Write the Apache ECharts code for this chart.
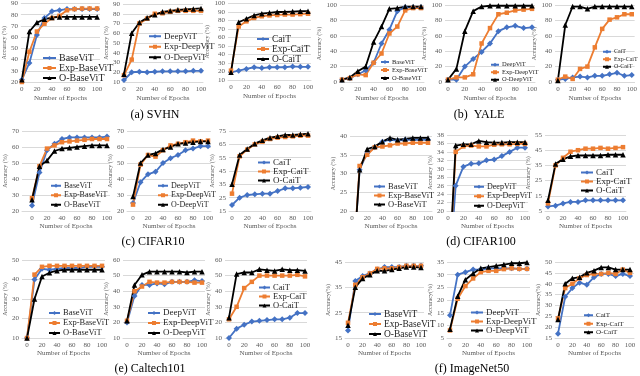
<!DOCTYPE html>
<html>
<head>
<meta charset="utf-8">
<script src="https://cdn.jsdelivr.net/npm/echarts@6/dist/echarts.min.js"></script>
<style>
html, body { margin: 0; padding: 0; background: #fff; }
#main { width: 640px; height: 376px; }
</style>
</head>
<body>
<div id="main"></div>
<script>
// epochs on the x axis, and the tick labels shown
const epochs = [0, 10, 20, 30, 40, 50, 60, 70, 80, 90, 100];
const xTicks = [0, 20, 40, 60, 80, 100];

// each panel: [plain model, Exp- model, O- model] accuracy (%)
const svhnBase = [
  [22, 37, 62, 77, 83, 84, 85, 85, 85, 85, 85],
  [20, 47, 65, 72, 77, 79, 84, 85, 85.5, 85.5, 85.5],
  [22, 65, 73, 76, 77.5, 78, 78, 78, 78, 78, 78]
];
const svhnDeep = [
  [12, 20, 20.5, 20, 20.5, 21, 21, 21, 21, 21.5, 21.5],
  [17, 33, 70, 75, 80, 80.5, 82, 83, 83, 83, 83],
  [18, 60, 71, 76, 79, 82, 83, 84, 84.5, 85, 85.5]
];
const svhnCait = [
  [19, 21, 23, 25, 24, 25, 25, 25, 26, 25.5, 25.5],
  [21, 73, 79, 83, 85, 86, 86.5, 87, 87, 87.5, 88],
  [19, 78, 82, 86, 88, 89, 90, 90, 90.5, 91, 91]
];
const yaleBase = [
  [3, 5, 10, 15, 25, 50, 68, 92, 97, 97, 97],
  [3, 5, 10, 9, 25, 37, 63, 72, 93, 96, 96],
  [3, 6, 14, 20, 52, 72, 95, 96, 98, 98, 98]
];
const yaleDeep = [
  [3, 3, 20, 30, 39, 50, 66, 71, 73, 70, 71],
  [3, 6, 6, 10, 50, 70, 88, 90, 93, 94, 95],
  [3, 17, 66, 92, 98, 99, 99, 99, 99, 99, 99]
];
const yaleCait = [
  [3, 4, 6, 7, 6, 8, 8, 10, 12, 8, 9],
  [3, 7, 4, 17, 20, 45, 69, 81, 84, 88, 88],
  [2, 74, 98, 98, 95, 98, 98, 98, 98, 98, 98]
];
const cifar10Base = [
  [23.5, 44, 58, 62, 65, 66, 66, 66, 66, 66, 66.5],
  [28, 48, 59, 61, 63, 63.5, 64, 64.5, 65, 65, 65],
  [27, 48, 51.5, 57.5, 59, 59.5, 60, 60.5, 61, 61, 61]
];
const cifar10Deep = [
  [25, 38, 43, 44.5, 50, 53, 55, 58, 59, 60.5, 60.5],
  [24, 49, 55, 54, 58, 61, 62, 63, 64, 63.5, 64],
  [29, 50, 55, 56, 58.5, 60, 62, 62.5, 63, 63.5, 63.5]
];
const cifar10Cait = [
  [19.5, 25, 27, 27.5, 28, 28, 30, 32, 32, 32.5, 33],
  [28, 56, 61, 65, 67, 69, 70, 70.5, 71, 71.5, 71.5],
  [35, 57, 61.5, 65.5, 68, 70, 71, 72, 72, 72.5, 73]
];
const cifar100Base = [
  [1, 31, 35.5, 37, 38.5, 39, 38.8, 39, 39, 39, 39],
  [1, 32, 35, 37, 37.2, 37.5, 38, 38, 38.2, 38.2, 38.2],
  [1, 31, 36.5, 37.2, 38.5, 39.5, 39, 39.2, 39.5, 39.5, 39.5]
];
const cifar100Deep = [
  [1, 26, 30.5, 31.2, 31.3, 32, 32.2, 33, 34, 35, 35],
  [1, 34, 35.3, 35.5, 35.3, 35.3, 35.7, 35.8, 35.8, 35.9, 35.9],
  [1, 35.5, 35.8, 35.8, 36.6, 36.3, 36.2, 36.2, 36.3, 36.3, 36.3]
];
const cifar100Cait = [
  [8, 8.5, 10, 11, 11, 12, 12, 12, 12, 12, 12],
  [10, 35, 40, 44, 45, 46, 46, 46.5, 46, 46.5, 47],
  [12, 36, 39, 41, 41.5, 41.5, 41.5, 41.5, 42, 42, 42]
];
const caltechBase = [
  [10, 40, 45.5, 45, 45.5, 46, 46, 46, 46.5, 46.5, 46.5],
  [10, 42.5, 46.5, 47, 47, 47, 47, 47, 47, 47, 47],
  [10, 30, 41.5, 43.5, 44.5, 45, 45, 45, 45, 45, 45]
];
const caltechDeep = [
  [20, 37, 44, 44, 45, 44.5, 46, 46, 46, 47, 46.5],
  [21, 40, 43, 46, 45.5, 45.5, 46, 46, 46, 45.5, 45.5],
  [21, 44, 50.5, 52.5, 52.5, 52.5, 52.5, 52.5, 52, 52.5, 52.5]
];
const caltechCait = [
  [10, 16, 18.5, 20.5, 21, 21.5, 22, 22, 23, 26, 26],
  [22, 30, 42, 46, 50, 50, 50, 50, 50, 50.5, 49.5],
  [23, 51, 52, 52, 54, 53.5, 53, 54, 53.5, 53.5, 53]
];
const imagenetBase = [
  [18, 37.5, 39.5, 40.5, 42, 43, 43, 43, 43.5, 43.5, 43.5],
  [21, 36, 39, 40.5, 42.3, 42.5, 42.5, 43, 43.5, 43.5, 43.5],
  [20, 35, 38.5, 40, 41.5, 41.5, 42, 42.5, 43, 43, 42.8]
];
const imagenetDeep = [
  [14, 30, 31, 32, 32, 32.5, 32.5, 32.5, 32.5, 32.3, 32.3],
  [8, 20.5, 25.5, 28.5, 31, 31.5, 31.5, 32.2, 32.5, 32.3, 32.3],
  [8.5, 21.5, 28, 30.5, 32.5, 33, 33.5, 34, 34.5, 34.5, 34.8]
];
const imagenetCait = [
  [17, 34, 38, 40.5, 39.5, 43, 44.5, 44.5, 43.5, 44.5, 43.5],
  [24, 38, 40, 42.5, 44, 44.5, 44.5, 45, 44.5, 46.5, 45],
  [23.5, 40, 42.5, 43, 45, 46, 47.5, 47.5, 46.5, 46.5, 46.5]
];

const captions = ['(a) SVHN', '(b)  YALE', '(c) CIFAR10', '(d) CIFAR100', '(e) Caltech101', '(f) ImageNet50'];

// y axis [min, max, step] per panel
const panels = [
  { model: 'BaseViT', data: svhnBase, y: [20, 90, 10] },
  { model: 'DeepViT', data: svhnDeep, y: [10, 90, 10] },
  { model: 'CaiT', data: svhnCait, y: [10, 100, 10] },
  { model: 'BaseViT', data: yaleBase, y: [0, 100, 20] },
  { model: 'DeepViT', data: yaleDeep, y: [0, 100, 20] },
  { model: 'CaiT', data: yaleCait, y: [0, 100, 20] },
  { model: 'BaseViT', data: cifar10Base, y: [20, 70, 10] },
  { model: 'DeepViT', data: cifar10Deep, y: [20, 70, 10] },
  { model: 'CaiT', data: cifar10Cait, y: [15, 75, 10] },
  { model: 'BaseViT', data: cifar100Base, y: [20, 40, 5] },
  { model: 'DeepViT', data: cifar100Deep, y: [20, 38, 2] },
  { model: 'CaiT', data: cifar100Cait, y: [5, 55, 10] },
  { model: 'BaseViT', data: caltechBase, y: [10, 50, 10] },
  { model: 'DeepViT', data: caltechDeep, y: [10, 60, 10] },
  { model: 'CaiT', data: caltechCait, y: [10, 60, 10] },
  { model: 'BaseViT', data: imagenetBase, y: [15, 45, 10] },
  { model: 'DeepViT', data: imagenetDeep, y: [5, 35, 5] },
  { model: 'CaiT', data: imagenetCait, y: [15, 50, 5] }
];

// layout: [grid left, grid right, x of epoch 0, x of epoch 100, top, bottom, yNameGap]
const boxes = [
  [18, 100, 19, 97, 3, 82, 10],
  [123, 203, 124, 201, 4, 82, 13],
  [228, 311, 231, 308, 3, 80, 9],
  [340, 424, 342, 421, 5, 82, 14],
  [445, 535, 448, 532, 5, 82, 14],
  [555, 638, 558, 635, 5, 82, 10],
  [22, 110, 32, 107, 131, 211, 14],
  [127, 211, 133, 208, 131, 211, 10],
  [229, 311, 232, 308, 131, 211, 10],
  [350, 432, 352, 428, 136, 211, 10],
  [447, 528, 448, 525, 135, 211, 9],
  [545, 626, 548, 623, 135, 211, 9],
  [22, 105, 27, 102, 260, 338, 11],
  [123, 205, 127, 202, 260, 338, 9],
  [225, 307, 229, 305, 260, 338, 9],
  [345, 424, 348, 421, 262, 338, 9],
  [447, 530, 450, 527, 262, 338, 11],
  [555, 634, 558, 630, 262, 338, 9]
];
// legend: [left, top, font size, row spacing]
const legendPos = [
  [42, 53, 10, 10], [148, 31, 9, 10.5], [256, 34, 9.5, 9.5],
  [380, 58, 6.5, 8], [490, 61, 6.5, 7.5], [602, 48, 6, 7.5],
  [50, 181, 8, 9.5], [157, 181, 8, 9.5], [257, 158, 9, 9],
  [373, 182, 8.5, 9], [473, 182, 8, 9.5], [580, 168, 9, 8],
  [48, 308, 8.5, 10], [147, 308, 9, 10], [258, 283, 8.5, 8],
  [368, 309, 9.5, 8.5], [470, 308, 9, 9], [583, 311, 7, 8.5]
];
const captionPos = [[155, 115], [479, 115], [153, 242], [481, 242], [150, 369], [472, 369]];

const serif = '"Liberation Serif", "Times New Roman", serif';
const colors = ['#4472C4', '#ED7D31', '#000000'];
const symbols = ['diamond', 'rect', 'triangle'];
const symbolSizes = [6, 4.5, 5.5];

let grid = [], xAxis = [], yAxis = [], series = [], legend = [];
panels.forEach(function (p, i) {
  const b = boxes[i];
  const pxPerEpoch = (b[3] - b[2]) / 100;
  grid.push({ left: b[0], top: b[4], width: b[1] - b[0], height: b[5] - b[4] });
  xAxis.push({
    gridIndex: i, type: 'value',
    min: -(b[2] - b[0]) / pxPerEpoch,
    max: 100 + (b[1] - b[3]) / pxPerEpoch,
    name: 'Number of Epochs', nameLocation: 'middle', nameGap: i < 6 ? 13 : 12,
    nameTextStyle: { fontSize: 7, fontFamily: serif, color: '#595959' },
    axisLine: { show: true, lineStyle: { color: '#d9d9d9', width: 1 } },
    axisTick: { show: false },
    splitLine: { show: false },
    axisLabel: { customValues: xTicks, fontSize: 7, fontFamily: serif, color: '#595959', margin: 4 }
  });
  yAxis.push({
    gridIndex: i, type: 'value',
    min: p.y[0], max: p.y[1], interval: p.y[2],
    name: i >= 15 ? 'Accuracy(%)' : 'Accuracy (%)', nameLocation: 'middle', nameGap: b[6],
    nameTextStyle: { fontSize: 6, fontFamily: serif, color: '#595959' },
    axisLine: { show: false }, axisTick: { show: false },
    splitLine: { lineStyle: { color: '#d9d9d9', width: 1 } },
    axisLabel: { fontSize: 7, fontFamily: serif, color: '#595959', margin: 3 }
  });
  const names = [p.model, 'Exp-' + p.model, 'O-' + p.model];
  p.data.forEach(function (vals, k) {
    series.push({
      type: 'line', name: names[k], xAxisIndex: i, yAxisIndex: i,
      data: epochs.map(function (e, j) { return [e, vals[j]]; }),
      symbol: symbols[k], symbolSize: symbolSizes[k],
      showAllSymbol: true, clip: true, animation: false,
      lineStyle: { color: colors[k], width: 1.8 },
      itemStyle: { color: colors[k] }
    });
  });
  const lg = legendPos[i];
  legend.push({
    orient: 'vertical', left: lg[0], top: lg[1], padding: 0, itemGap: 0,
    itemWidth: Math.round(lg[2] * 1.3), itemHeight: 5,
    textStyle: { fontSize: lg[2], lineHeight: lg[3], fontFamily: serif, color: '#262626', padding: [0, 0, 0, -2] },
    data: names, selectedMode: false
  });
});

const graphic = captions.map(function (t, i) {
  return {
    type: 'text', x: captionPos[i][0], y: captionPos[i][1],
    style: { text: t, font: '12px ' + serif, fill: '#000', align: 'center', verticalAlign: 'middle' }
  };
});

const myChart = echarts.init(document.getElementById('main'));
myChart.setOption({
  animation: false,
  grid: grid, xAxis: xAxis, yAxis: yAxis, series: series, legend: legend, graphic: graphic
});
</script>
</body>
</html>
